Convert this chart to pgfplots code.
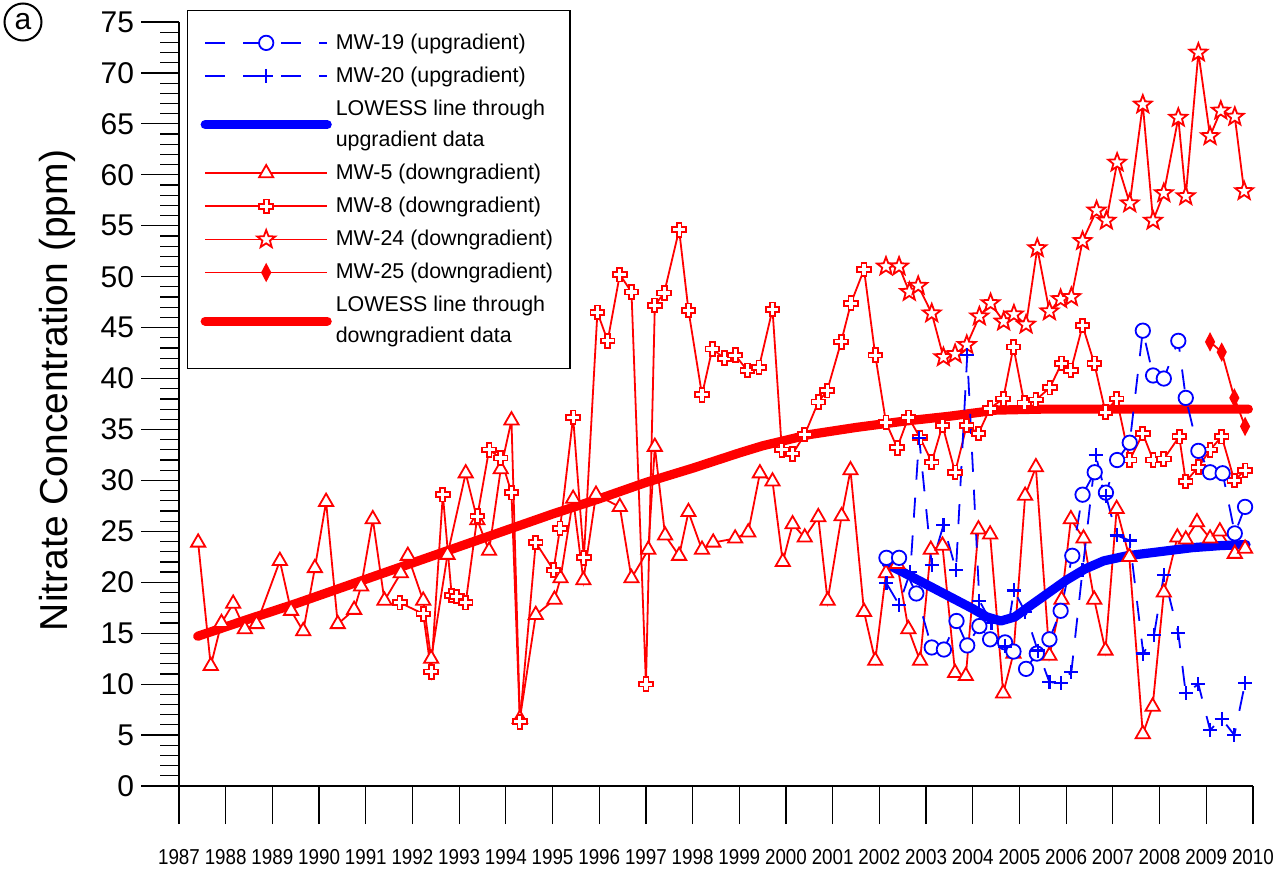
\documentclass[border=0pt]{standalone}
\usepackage{fontspec}
\setmainfont{Liberation Sans}
\usepackage{pgfplots}
\pgfplotsset{compat=1.18}

\pgfdeclareplotmark{oplus}{%
  \pgfpathmoveto{\pgfqpoint{0.36\pgfplotmarksize}{\pgfplotmarksize}}%
  \pgfpathlineto{\pgfqpoint{0.36\pgfplotmarksize}{0.36\pgfplotmarksize}}%
  \pgfpathlineto{\pgfqpoint{\pgfplotmarksize}{0.36\pgfplotmarksize}}%
  \pgfpathlineto{\pgfqpoint{\pgfplotmarksize}{-0.36\pgfplotmarksize}}%
  \pgfpathlineto{\pgfqpoint{0.36\pgfplotmarksize}{-0.36\pgfplotmarksize}}%
  \pgfpathlineto{\pgfqpoint{0.36\pgfplotmarksize}{-\pgfplotmarksize}}%
  \pgfpathlineto{\pgfqpoint{-0.36\pgfplotmarksize}{-\pgfplotmarksize}}%
  \pgfpathlineto{\pgfqpoint{-0.36\pgfplotmarksize}{-0.36\pgfplotmarksize}}%
  \pgfpathlineto{\pgfqpoint{-\pgfplotmarksize}{-0.36\pgfplotmarksize}}%
  \pgfpathlineto{\pgfqpoint{-\pgfplotmarksize}{0.36\pgfplotmarksize}}%
  \pgfpathlineto{\pgfqpoint{-0.36\pgfplotmarksize}{0.36\pgfplotmarksize}}%
  \pgfpathlineto{\pgfqpoint{-0.36\pgfplotmarksize}{\pgfplotmarksize}}%
  \pgfpathclose
  \pgfusepathqfillstroke
}
\pgfdeclareplotmark{ostar}{%
  \pgfpathmoveto{\pgfqpoint{0pt}{\pgfplotmarksize}}%
  \pgfpathlineto{\pgfqpoint{-0.247\pgfplotmarksize}{0.340\pgfplotmarksize}}%
  \pgfpathlineto{\pgfqpoint{-0.951\pgfplotmarksize}{0.309\pgfplotmarksize}}%
  \pgfpathlineto{\pgfqpoint{-0.399\pgfplotmarksize}{-0.130\pgfplotmarksize}}%
  \pgfpathlineto{\pgfqpoint{-0.588\pgfplotmarksize}{-0.809\pgfplotmarksize}}%
  \pgfpathlineto{\pgfqpoint{0pt}{-0.42\pgfplotmarksize}}%
  \pgfpathlineto{\pgfqpoint{0.588\pgfplotmarksize}{-0.809\pgfplotmarksize}}%
  \pgfpathlineto{\pgfqpoint{0.399\pgfplotmarksize}{-0.130\pgfplotmarksize}}%
  \pgfpathlineto{\pgfqpoint{0.951\pgfplotmarksize}{0.309\pgfplotmarksize}}%
  \pgfpathlineto{\pgfqpoint{0.247\pgfplotmarksize}{0.340\pgfplotmarksize}}%
  \pgfpathclose
  \pgfusepathqfillstroke
}

\pgfplotsset{
  mw19/.style={color=blue, line width=0.9pt, dash pattern=on 10pt off 9pt, mark=*, mark size=3.6pt, mark options={solid, fill=white}},
  mw20/.style={color=blue, line width=0.9pt, dash pattern=on 10pt off 9pt, mark=+, mark size=3.5pt, mark options={solid, line width=1.1pt}},
  lowup/.style={color=blue, line width=4.6pt, line cap=round, line join=round, mark=none},
  mw5/.style={color=red, line width=0.9pt, mark=triangle*, mark size=4.1pt, mark options={solid, fill=white}},
  mw8/.style={color=red, line width=0.9pt, mark=oplus, mark size=3.4pt, mark options={solid, fill=white}},
  mw24/.style={color=red, draw=red, line width=0.9pt, mark=ostar, mark size=4.7pt, mark options={solid, draw=red, fill=white}},
  mw25/.style={color=red, line width=0.9pt, mark=diamond*, mark size=3.9pt, mark options={solid, fill=red, xscale=0.7}},
  lowdn/.style={color=red, line width=4.6pt, line cap=round, line join=round, mark=none},
}

\begin{document}
\begin{tikzpicture}
\useasboundingbox (-89.5pt,-41.5pt) rectangle (549.5pt,393pt);
\begin{axis}[
  at={(0pt,0pt)}, anchor=south west,
  scale only axis, width=537pt, height=382pt,
  xmin=1987, xmax=2010, ymin=0, ymax=75,
  axis x line*=bottom, axis y line*=left,
  axis line style={line width=0.6pt, black},
  xtick={1987,...,2010}, minor x tick num=3,
  ytick={0,5,...,75}, minor y tick num=4,
  tick align=outside,
  major tick length=19pt, minor tick length=9.5pt,
  tick style={black, line width=0.6pt},
  /pgf/number format/assume math mode=true,
  /pgf/number format/1000 sep={},
  xticklabel style={font=\fontsize{10.8}{12}\selectfont, xscale=0.87, yshift=-9pt},
  yticklabel style={font=\fontsize{15}{18}\selectfont},
  ylabel={Nitrate Concentration (ppm)},
  ylabel style={font=\fontsize{19.5}{23}\selectfont, at={(axis description cs:-0.1136,0.5177)}, anchor=center},
  clip=false,
  legend style={
    at={(axis description cs:0.00745,1.0157)}, anchor=north west,
    draw=black, line width=0.6pt, fill=white,
    inner xsep=6.5pt, inner ysep=9.5pt,
    font=\fontsize{10.7}{15.5}\selectfont,
    cells={anchor=west, align=left},
    row sep=3.3pt,
    /tikz/every even column/.append style={column sep=3.5pt},
  },
  legend image code/.code={\draw[mark repeat=2,mark phase=2,#1] plot coordinates {(0pt,0pt) (30.5pt,0pt) (61pt,0pt)};},
]

% MW-5 (downgradient)
\addplot[mw5, forget plot] coordinates {
(1987.41,23.9) (1987.68,11.8) (1987.91,16.0) (1988.16,17.9) (1988.41,15.4) (1988.66,15.9)
(1989.16,22.1) (1989.40,17.2) (1989.66,15.2) (1989.91,21.4) (1990.15,27.9) (1990.40,15.9)
(1990.75,17.3) (1990.90,19.6) (1991.15,26.2) (1991.40,18.2) (1991.75,20.9) (1991.90,22.6)
(1992.23,18.2) (1992.40,12.5) (1992.75,22.7) (1993.14,30.7) (1993.39,26.1) (1993.64,23.1)
(1993.89,31.1) (1994.12,35.9) (1994.30,6.6) (1994.64,16.8) (1995.04,18.3) (1995.17,20.4)
(1995.44,28.2) (1995.66,20.2) (1995.93,28.6) (1996.44,27.4) (1996.69,20.4) (1997.05,23.2)
(1997.19,33.3) (1997.41,24.6) (1997.71,22.6) (1997.91,26.9) (1998.20,23.2) (1998.44,23.9)
(1998.91,24.3) (1999.19,24.9) (1999.44,30.7) (1999.71,29.9) (1999.93,22.0) (2000.14,25.7)
(2000.40,24.4) (2000.69,26.4) (2000.89,18.2) (2001.19,26.5) (2001.38,31.0) (2001.67,17.1)
(2001.91,12.3) (2002.14,20.9) (2002.38,21.8) (2002.62,15.4) (2002.87,12.3) (2003.10,23.2)
(2003.35,23.6) (2003.62,11.1) (2003.85,10.8) (2004.12,25.2) (2004.37,24.7) (2004.65,9.1)
(2004.87,13.0) (2005.12,28.5) (2005.35,31.3) (2005.64,12.8) (2005.90,18.3) (2006.10,26.2)
(2006.37,24.3) (2006.60,18.3) (2006.84,13.3) (2007.08,27.2) (2007.35,22.5) (2007.64,5.1)
(2007.85,7.8) (2008.09,19.0) (2008.38,24.4) (2008.56,24.2) (2008.80,25.9) (2009.08,24.3)
(2009.29,25.0) (2009.61,22.8) (2009.83,23.3)
};

% MW-8 (downgradient)
\addplot[mw8, forget plot] coordinates {
(1991.73,18.0) (1992.23,16.9) (1992.40,11.2) (1992.65,28.6) (1992.84,18.7) (1992.95,18.6)
(1993.14,18.0) (1993.39,26.5) (1993.64,33.0) (1993.89,32.2) (1994.12,28.8) (1994.30,6.3)
(1994.64,23.9) (1995.02,21.2) (1995.16,25.3) (1995.44,36.2) (1995.67,22.4) (1995.96,46.5)
(1996.18,43.7) (1996.44,50.2) (1996.69,48.5) (1997.00,10.0) (1997.19,47.2) (1997.39,48.4)
(1997.71,54.6) (1997.91,46.7) (1998.20,38.4) (1998.42,42.9) (1998.68,42.0) (1998.91,42.3)
(1999.17,40.8) (1999.42,41.1) (1999.71,46.8) (1999.91,33.0) (2000.14,32.6) (2000.40,34.5)
(2000.69,37.7) (2000.88,38.8) (2001.18,43.6) (2001.39,47.4) (2001.67,50.7) (2001.91,42.3)
(2002.14,35.7) (2002.38,33.2) (2002.62,36.2) (2002.87,34.2) (2003.12,31.8) (2003.35,35.4)
(2003.62,30.8) (2003.87,35.4) (2004.12,34.6) (2004.37,37.1) (2004.65,38.0) (2004.87,43.1)
(2005.10,37.6) (2005.35,37.9) (2005.65,39.1) (2005.90,41.5) (2006.10,40.8) (2006.35,45.2)
(2006.60,41.5) (2006.84,36.7) (2007.08,38.0) (2007.36,32.0) (2007.64,34.6) (2007.86,32.0)
(2008.09,32.1) (2008.42,34.3) (2008.56,29.9) (2008.83,31.3) (2009.08,33.0) (2009.33,34.3)
(2009.60,30.0) (2009.83,31.0)
};

% MW-24 (downgradient)
\addplot[mw24, forget plot] coordinates {
(2002.14,51.0) (2002.42,51.0) (2002.64,48.5) (2002.83,49.1) (2003.12,46.4) (2003.37,42.1)
(2003.62,42.4) (2003.87,43.3) (2004.14,46.1) (2004.38,47.4) (2004.66,45.6) (2004.88,46.3)
(2005.14,45.3) (2005.38,52.8) (2005.64,46.6) (2005.88,47.8) (2006.11,48.0) (2006.35,53.5)
(2006.65,56.5) (2006.86,55.5) (2007.09,61.2) (2007.36,57.2) (2007.64,66.9) (2007.86,55.5)
(2008.09,58.2) (2008.40,65.6) (2008.56,57.9) (2008.83,72.0) (2009.08,63.8) (2009.31,66.3)
(2009.61,65.7) (2009.81,58.4)
};

% MW-25 (downgradient)
\addplot[mw25, forget plot] coordinates {
(2009.08,43.6) (2009.33,42.6) (2009.60,38.1) (2009.83,35.3)
};

% LOWESS downgradient
\addplot[lowdn, forget plot] coordinates {
(1987.40,14.7) (1988.5,16.4) (1989.5,17.9) (1990.5,19.5) (1991.5,21.1) (1992.5,22.7)
(1993.5,24.3) (1994.0,25.1) (1995.0,26.7) (1996.0,28.2) (1997.0,29.8) (1998.0,31.2)
(1999.0,32.7) (1999.5,33.4) (2000.5,34.5) (2001.5,35.2) (2002.5,35.8) (2003.5,36.3)
(2004.5,36.9) (2005.5,37.0) (2007.0,37.0) (2008.5,37.0) (2009.9,37.0)
};

% MW-19 (upgradient)
\addplot[mw19, forget plot] coordinates {
(2002.15,22.4) (2002.42,22.4) (2002.79,18.9) (2003.12,13.6) (2003.38,13.4) (2003.65,16.2)
(2003.88,13.8) (2004.14,15.7) (2004.37,14.4) (2004.69,14.1) (2004.87,13.2) (2005.14,11.5)
(2005.37,13.0) (2005.64,14.4) (2005.88,17.2) (2006.13,22.6) (2006.35,28.6) (2006.61,30.8)
(2006.85,28.8) (2007.09,32.0) (2007.36,33.7) (2007.64,44.7) (2007.86,40.3) (2008.09,40.0)
(2008.40,43.7) (2008.56,38.1) (2008.83,32.9) (2009.08,30.8) (2009.35,30.7) (2009.61,24.8)
(2009.83,27.4)
};

% MW-20 (upgradient)
\addplot[mw20, forget plot] coordinates {
(2002.15,19.9) (2002.42,17.8) (2002.66,21.0) (2002.85,34.2) (2003.12,21.7) (2003.37,25.6)
(2003.64,21.2) (2003.88,42.3) (2004.14,18.2) (2004.40,16.0) (2004.69,13.7) (2004.88,19.2)
(2005.12,17.1) (2005.39,13.3) (2005.64,10.2) (2005.88,10.1) (2006.11,11.2) (2006.35,21.2)
(2006.63,32.5) (2006.85,28.5) (2007.08,24.6) (2007.36,24.1) (2007.65,13.0) (2007.88,14.8)
(2008.09,20.7) (2008.40,15.0) (2008.56,9.1) (2008.83,10.0) (2009.08,5.5) (2009.33,6.6)
(2009.60,5.0) (2009.83,10.1)
};

% LOWESS upgradient
\addplot[lowup, forget plot] coordinates {
(2002.15,21.8) (2002.5,21.0) (2003.0,19.8) (2003.5,18.6) (2004.0,17.4) (2004.3,16.6)
(2004.6,16.2) (2004.9,16.6) (2005.2,17.6) (2005.6,18.9) (2006.0,20.2) (2006.4,21.3)
(2006.8,22.1) (2007.3,22.6) (2008.0,23.0) (2008.7,23.4) (2009.3,23.6) (2009.85,23.7)
};

\addlegendimage{mw19}
\addlegendentry{MW-19 (upgradient)}
\addlegendimage{mw20}
\addlegendentry{MW-20 (upgradient)}
\addlegendimage{lowup}
\addlegendentry{LOWESS line through\\upgradient data}
\addlegendimage{mw5}
\addlegendentry{MW-5 (downgradient)}
\addlegendimage{mw8}
\addlegendentry{MW-8 (downgradient)}
\addlegendimage{mw24}
\addlegendentry{MW-24 (downgradient)}
\addlegendimage{mw25}
\addlegendentry{MW-25 (downgradient)}
\addlegendimage{lowdn}
\addlegendentry{LOWESS line through\\downgradient data}
\end{axis}
\node[draw, circle, line width=1pt, minimum size=18.5pt, inner sep=0pt, font=\fontsize{15}{15}\selectfont] at (-78pt,382pt) {a};
\end{tikzpicture}
\end{document}
